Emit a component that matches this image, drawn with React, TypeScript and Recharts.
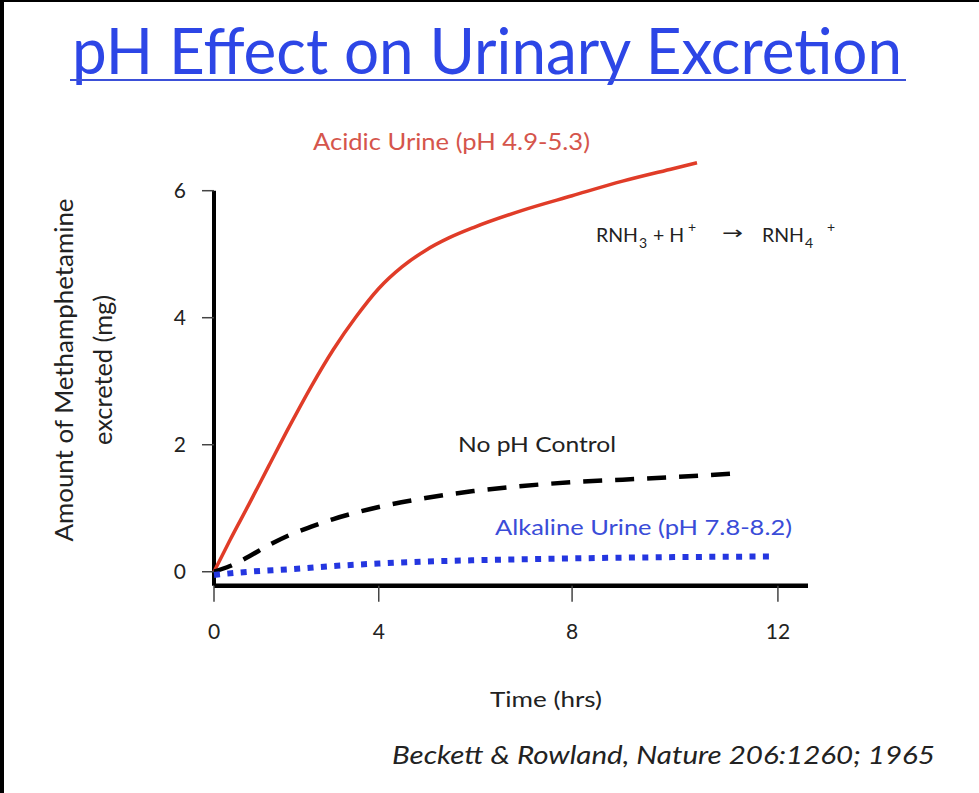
import React from "react";
import { LineChart, Line, XAxis, YAxis, ReferenceLine } from "recharts";

// Hours after dosing and cumulative amount excreted (mg) for each urine condition
const acidicHours = [0, 0.5, 1, 1.5, 2, 2.5, 3, 3.5, 4, 4.5, 5, 5.5, 6, 7, 8, 9, 10, 10.45];
const acidicMg = [0, 0.5, 1.06, 1.67, 2.3, 2.92, 3.5, 4.01, 4.46, 4.8, 5.06, 5.26, 5.42, 5.69, 5.92, 6.15, 6.35, 6.44];

const controlHours = [0, 0.5, 1, 1.5, 2, 2.5, 3, 3.5, 4, 5, 6, 7, 8, 9, 10, 11.2];
const controlMg = [0, 0.09, 0.24, 0.42, 0.58, 0.71, 0.83, 0.93, 1.02, 1.16, 1.27, 1.35, 1.41, 1.45, 1.49, 1.55];

const alkalineHours = [0, 1, 2, 3, 4, 5, 6, 8, 10, 11.85];
const alkalineMg = [-0.05, 0.0, 0.04, 0.09, 0.13, 0.16, 0.18, 0.21, 0.23, 0.24];

const hourTicks = [0, 4, 8, 12];
const mgTicks = [0, 2, 4, 6];

// the time axis runs a little past the last tick, the amount axis dips below zero;
// headroom above 6 mg keeps the acidic curve unclipped
const HOURS_END = 12.57;
const MG_FLOOR = -0.22;
const MG_AXIS_TOP = 6;
const MG_CEIL = 6.6;

const FONT = "Lato, 'Open Sans', sans-serif";

const toSeries = (hours: number[], mg: number[]) => hours.map((t, i) => ({ t, mg: mg[i] }));

const acidic = toSeries(acidicHours, acidicMg);
const control = toSeries(controlHours, controlMg);
const alkaline = toSeries(alkalineHours, alkalineMg);

// slightly stretched time axis (power scale, d3-like interface)
function powScale(exponent: number): any {
  let dom = [0, 1];
  let rng = [0, 1];
  const scale: any = (v: number) => {
    const f = (Number(v) - dom[0]) / (dom[1] - dom[0]);
    const p = f < 0 ? -Math.pow(-f, exponent) : Math.pow(f, exponent);
    return rng[0] + (rng[1] - rng[0]) * p;
  };
  scale.domain = (d?: any[]) => {
    if (d === undefined) return dom.slice();
    dom = Array.from(d, Number);
    return scale;
  };
  scale.range = (r?: any[]) => {
    if (r === undefined) return rng.slice();
    rng = Array.from(r, Number);
    return scale;
  };
  scale.copy = () => powScale(exponent).domain(dom).range(rng);
  scale.invert = (px: number) => {
    const p = (px - rng[0]) / (rng[1] - rng[0]);
    return dom[0] + (dom[1] - dom[0]) * Math.pow(Math.max(p, 0), 1 / exponent);
  };
  scale.ticks = (count = 5) => {
    const step = (dom[1] - dom[0]) / count;
    const mag = Math.pow(10, Math.floor(Math.log10(step)));
    const s = Math.ceil(step / mag) * mag;
    const out: number[] = [];
    for (let v = Math.ceil(dom[0] / s) * s; v <= dom[1] + 1e-9; v += s) out.push(+v.toFixed(6));
    return out;
  };
  scale.tickFormat = () => (v: number) => String(v);
  return scale;
}

const timeScale = powScale(1.12);

export default function App() {
  return (
    <div style={{ position: "absolute", left: 0, top: 0, width: 979, height: 793, background: "#fff", overflow: "hidden" }}>
      <LineChart
        width={979}
        height={793}
        margin={{ top: 152.6, right: 171, bottom: 147.3, left: 154 }}
        style={{ position: "absolute", left: 0, top: 0 }}
      >
        <XAxis
          type="number"
          dataKey="t"
          domain={[0, HOURS_END]}
          ticks={hourTicks}
          scale={timeScale}
          height={60}
          axisLine={{ stroke: "#000", strokeWidth: 4.5 }}
          tickLine={{ stroke: "#444", strokeWidth: 1.5 }}
          tickSize={16}
          tickMargin={22}
          tick={{ fontSize: 21, fill: "#222", fontFamily: FONT }}
        />
        <YAxis
          type="number"
          dataKey="mg"
          domain={[MG_FLOOR, MG_CEIL]}
          ticks={mgTicks}
          width={60}
          axisLine={false}
          tickLine={{ stroke: "#444", strokeWidth: 1.5 }}
          tickSize={12}
          tickMargin={16}
          tick={{ fontSize: 21, fill: "#222", fontFamily: FONT }}
        />
        {/* vertical axis stops at the 6 mg tick */}
        <ReferenceLine
          segment={[
            { x: 0, y: MG_FLOOR },
            { x: 0, y: MG_AXIS_TOP },
          ]}
          stroke="#000"
          strokeWidth={4}
        />
        <Line
          data={acidic}
          dataKey="mg"
          type="monotone"
          stroke="#e03c28"
          strokeWidth={3.5}
          dot={false}
          activeDot={false}
          isAnimationActive={false}
        />
        <Line
          data={control}
          dataKey="mg"
          type="monotone"
          stroke="#000"
          strokeWidth={4.5}
          strokeDasharray="19 13"
          dot={false}
          activeDot={false}
          isAnimationActive={false}
        />
        <Line
          data={alkaline}
          dataKey="mg"
          type="monotone"
          stroke="#2436e0"
          strokeWidth={6}
          strokeDasharray="6 7.4"
          dot={false}
          activeDot={false}
          isAnimationActive={false}
        />
      </LineChart>

      <svg width={979} height={793} style={{ position: "absolute", left: 0, top: 0, pointerEvents: "none" }} fontFamily={FONT}>
        <rect x={0} y={0} width={4} height={793} fill="#000" />
        <rect x={0} y={0} width={979} height={2} fill="#000" />

        <text x={72} y={74} fontSize={63} fill="#2d46e6" textLength={830} lengthAdjust="spacingAndGlyphs">
          pH Effect on Urinary Excretion
        </text>
        <line x1={70} x2={906} y1={80} y2={80} stroke="#3b50d8" strokeWidth={2} />

        <text x={313} y={150} fontSize={24} fill="#d5554c" textLength={277} lengthAdjust="spacingAndGlyphs">
          Acidic Urine (pH 4.9-5.3)
        </text>

        {/* RNH3 + H+ -> RNH4+ */}
        <text fontSize={19.5} fill="#222">
          <tspan x={596} y={241.7}>RNH</tspan>
          <tspan x={639} y={248.3} fontSize={14}>3</tspan>
          <tspan x={653} y={241.7}>+ H</tspan>
          <tspan x={688} y={232} fontSize={14}>+</tspan>
          <tspan x={722} y={239} fontSize={18} fontFamily="DejaVu Sans" textLength={21} lengthAdjust="spacingAndGlyphs">→</tspan>
          <tspan x={762} y={241.7}>RNH</tspan>
          <tspan x={805} y={248.3} fontSize={14}>4</tspan>
          <tspan x={827} y={232} fontSize={14}>+</tspan>
        </text>

        <text x={458} y={451.7} fontSize={22} fill="#222" textLength={158} lengthAdjust="spacingAndGlyphs">
          No pH Control
        </text>
        <text x={495} y={535} fontSize={22} fill="#3a4cd8" textLength={297} lengthAdjust="spacingAndGlyphs">
          Alkaline Urine (pH 7.8-8.2)
        </text>

        <g transform="translate(73 370) rotate(-90)">
          <text x={0} y={0} fontSize={25} fill="#222" textAnchor="middle" textLength={343} lengthAdjust="spacingAndGlyphs">
            Amount of Methamphetamine
          </text>
          <text x={0} y={39} fontSize={25} fill="#222" textAnchor="middle" textLength={150} lengthAdjust="spacingAndGlyphs">
            excreted (mg)
          </text>
        </g>

        <text x={490} y={707} fontSize={22} fill="#222" textLength={112} lengthAdjust="spacingAndGlyphs">
          Time (hrs)
        </text>

        <text x={392} y={764} fontSize={26} fill="#222" fontStyle="italic" textLength={543} lengthAdjust="spacingAndGlyphs">
          Beckett &amp; Rowland, Nature 206:1260; 1965
        </text>
      </svg>
    </div>
  );
}
